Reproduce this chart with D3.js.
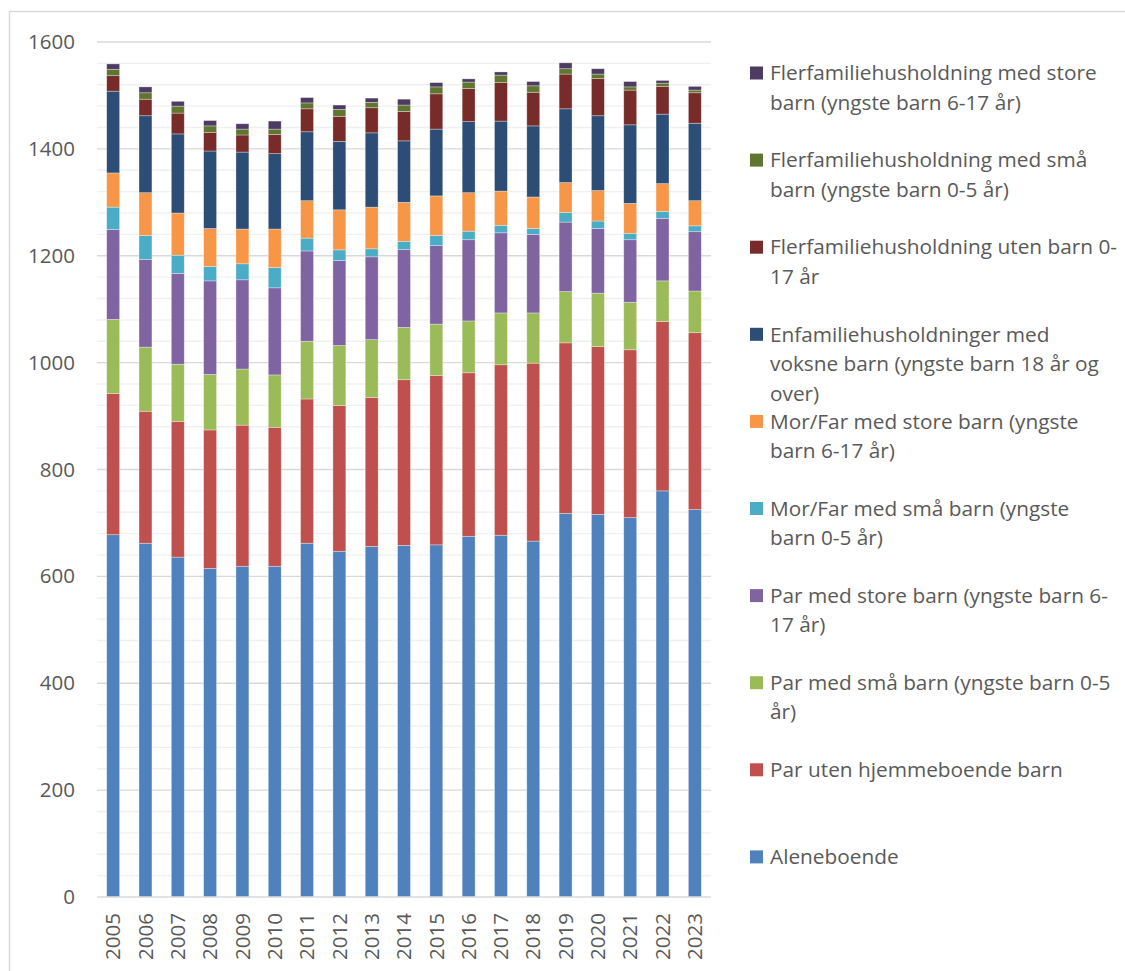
<!DOCTYPE html>
<html>
<head>
<meta charset="utf-8">
<script src="https://cdn.jsdelivr.net/npm/d3@7"></script>
<style>
  body { margin: 0; background: #fff; }
  svg text { font-family: "Open Sans", Lato, sans-serif; fill: #595959; }
</style>
</head>
<body>
<svg id="chart" width="1125" height="971"></svg>
<script>
'use strict';

var years = ['2005', '2006', '2007', '2008', '2009', '2010', '2011', '2012', '2013', '2014',
  '2015', '2016', '2017', '2018', '2019', '2020', '2021', '2022', '2023'];

// one array per household type, bottom of the stack first
var aleneboende = [678, 662, 636, 615, 619, 619, 662, 647, 656, 658, 659, 675, 677, 666, 718, 716, 710, 760, 725];
var parUtenBarn = [264, 247, 254, 259, 264, 260, 270, 273, 279, 310, 317, 306, 319, 333, 319, 314, 314, 317, 331];
var parSmaaBarn = [139, 120, 107, 104, 105, 98, 108, 112, 108, 98, 96, 97, 97, 94, 96, 100, 89, 76, 78];
var parStoreBarn = [168, 164, 170, 175, 167, 163, 169, 159, 155, 146, 147, 152, 150, 147, 130, 121, 117, 117, 111];
var morFarSmaa = [42, 45, 34, 27, 30, 38, 24, 20, 15, 15, 19, 16, 14, 11, 18, 14, 12, 13, 11];
var morFarStore = [64, 80, 79, 71, 65, 72, 70, 75, 78, 73, 74, 72, 64, 59, 56, 57, 56, 52, 47];
var enfamVoksne = [153, 144, 148, 145, 144, 141, 129, 128, 139, 115, 125, 133, 131, 133, 138, 140, 147, 130, 145];
var flerUtenBarn = [29, 31, 39, 35, 32, 36, 43, 47, 47, 55, 66, 62, 72, 63, 65, 70, 65, 52, 57];
var flerSmaaBarn = [12, 12, 13, 12, 11, 10, 11, 13, 10, 12, 13, 12, 14, 12, 10, 8, 6, 6, 5];
var flerStoreBarn = [10, 11, 9, 10, 10, 15, 10, 8, 8, 11, 8, 6, 6, 8, 11, 10, 10, 5, 7];

var seriesKeys = ['alene', 'parUten', 'parSmaa', 'parStore', 'mfSmaa', 'mfStore', 'enfam', 'flerUten', 'flerSmaa', 'flerStore'];
var seriesValues = [aleneboende, parUtenBarn, parSmaaBarn, parStoreBarn, morFarSmaa, morFarStore,
  enfamVoksne, flerUtenBarn, flerSmaaBarn, flerStoreBarn];
var seriesColors = ['#4F81BD', '#C0504D', '#9BBB59', '#8064A2', '#4BACC6', '#F79646',
  '#2C4D75', '#772C2A', '#5F7530', '#4D3B62'];
// legend text, already wrapped the way the original shows it
var seriesLabels = [
  ['Aleneboende'],
  ['Par uten hjemmeboende barn'],
  ['Par med små barn (yngste barn 0-5', 'år)'],
  ['Par med store barn (yngste barn 6-', '17 år)'],
  ['Mor/Far med små barn (yngste', 'barn 0-5 år)'],
  ['Mor/Far med store barn (yngste', 'barn 6-17 år)'],
  ['Enfamiliehusholdninger med', 'voksne barn (yngste barn 18 år og', 'over)'],
  ['Flerfamiliehusholdning uten barn 0-', '17 år'],
  ['Flerfamiliehusholdning med små', 'barn (yngste barn 0-5 år)'],
  ['Flerfamiliehusholdning med store', 'barn (yngste barn 6-17 år)']
];

var yTicks = [0, 200, 400, 600, 800, 1000, 1200, 1400, 1600];

var rows = years.map(function (yr, i) {
  var row = { year: yr };
  seriesKeys.forEach(function (k, j) { row[k] = seriesValues[j][i]; });
  return row;
});

var svg = d3.select('#chart');

// outer frame
svg.append('rect')
  .attr('x', 9.5).attr('y', 11.5)
  .attr('width', 1130).attr('height', 980)
  .attr('fill', 'none').attr('stroke', '#d9d9d9').attr('stroke-width', 1.5);

var x = d3.scaleBand().domain(years).range([97, 711]).paddingInner(0.6).paddingOuter(0.3);
var y = d3.scaleLinear().domain([0, 1600]).range([897, 42]);

// minor grid every 40, major every 200
var grid = svg.append('g').attr('class', 'grid');
grid.selectAll('line.minor')
  .data(d3.range(40, 1600, 40).filter(function (v) { return v % 200 !== 0; }))
  .enter().append('line')
  .attr('class', 'minor')
  .attr('x1', 97).attr('x2', 711)
  .attr('y1', function (d) { return y(d); }).attr('y2', function (d) { return y(d); })
  .attr('stroke', '#f0f0f0').attr('stroke-width', 1.3);
grid.selectAll('line.major')
  .data(yTicks.slice(1))
  .enter().append('line')
  .attr('class', 'major')
  .attr('x1', 97).attr('x2', 711)
  .attr('y1', function (d) { return y(d); }).attr('y2', function (d) { return y(d); })
  .attr('stroke', '#d9d9d9').attr('stroke-width', 1.3);

var stack = d3.stack().keys(seriesKeys);
var layers = stack(rows);

svg.append('g').selectAll('g')
  .data(layers)
  .enter().append('g')
  .attr('fill', function (d, i) { return seriesColors[i]; })
  .selectAll('rect')
  .data(function (d) { return d; })
  .enter().append('rect')
  .attr('x', function (d) { return x(d.data.year); })
  .attr('width', x.bandwidth())
  .attr('y', function (d) { return y(d[1]); })
  .attr('height', function (d) { return y(d[0]) - y(d[1]); })
  .attr('stroke', 'rgba(255,255,255,0.45)')
  .attr('stroke-width', 0.7);

// x axis line
svg.append('line')
  .attr('x1', 97).attr('x2', 711)
  .attr('y1', y(0)).attr('y2', y(0))
  .attr('stroke', '#d9d9d9').attr('stroke-width', 1.5);

// y tick labels
var yAxis = d3.axisLeft(y).tickValues(yTicks).tickFormat(d3.format('d')).tickSize(0).tickPadding(0);
var yG = svg.append('g').attr('transform', 'translate(75,0)').call(yAxis);
yG.select('.domain').remove();
yG.selectAll('text')
  .attr('font-size', 20.5)
  .attr('fill', '#595959')
  .attr('font-family', '"Open Sans", sans-serif');

// x tick labels, rotated
var xAxis = d3.axisBottom(x).tickSize(0).tickPadding(0);
var xG = svg.append('g').attr('transform', 'translate(0,' + y(0) + ')').call(xAxis);
xG.select('.domain').remove();
xG.selectAll('text')
  .attr('font-size', 20.5)
  .attr('fill', '#595959')
  .attr('font-family', '"Open Sans", sans-serif')
  .attr('text-anchor', 'end')
  .attr('dy', '0.35em')
  .attr('transform', 'translate(0,16) rotate(-90)')
  .attr('y', 0).attr('x', 0);

// legend, top entry is the top of the stack
var legend = svg.append('g').attr('class', 'legend');
var order = d3.range(seriesKeys.length).reverse();
order.forEach(function (si, i) {
  var cy = 73 + i * 87.1;
  var item = legend.append('g');
  item.append('rect')
    .attr('x', 750).attr('y', cy - 6.5)
    .attr('width', 13).attr('height', 13)
    .attr('fill', seriesColors[si]);
  var text = item.append('text')
    .attr('x', 770).attr('y', cy)
    .attr('font-size', 20.8);
  seriesLabels[si].forEach(function (line, li) {
    text.append('tspan')
      .attr('x', 770)
      .attr('y', cy + li * 29.5)
      .attr('dy', '0.35em')
      .text(line);
  });
});
</script>
</body>
</html>
